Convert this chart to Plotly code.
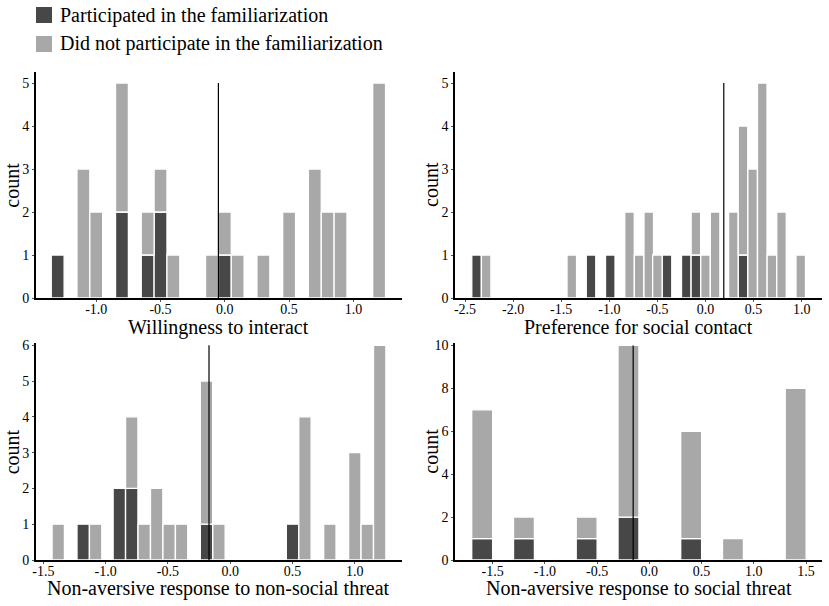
import plotly.graph_objects as go
from plotly.subplots import make_subplots

# bin centres and counts per group
x1 = [-1.3, -1.1, -1.0, -0.8, -0.6, -0.5, -0.4, -0.1, 0.0, 0.1, 0.3, 0.5, 0.7, 0.8, 0.9, 1.2]
part1 = [1, 0, 0, 2, 1, 2, 0, 0, 1, 0, 0, 0, 0, 0, 0, 0]
nonpart1 = [0, 3, 2, 3, 1, 1, 1, 1, 1, 1, 1, 2, 3, 2, 2, 5]

x2 = [-2.38, -2.28, -1.39, -1.19, -0.99, -0.79, -0.69, -0.59, -0.50, -0.40, -0.20,
      -0.10, 0.00, 0.10, 0.29, 0.39, 0.49, 0.59, 0.69, 0.79, 0.99]
part2 = [1, 0, 0, 1, 1, 0, 0, 0, 0, 1, 1, 1, 0, 0, 0, 1, 0, 0, 0, 0, 0]
nonpart2 = [0, 1, 1, 0, 0, 2, 1, 2, 1, 0, 0, 1, 1, 2, 2, 3, 3, 5, 1, 2, 1]

x3 = [-1.38, -1.18, -1.08, -0.89, -0.79, -0.69, -0.59, -0.49, -0.39, -0.19, -0.09,
      0.50, 0.60, 0.80, 1.00, 1.10, 1.20]
part3 = [0, 1, 0, 2, 2, 0, 0, 0, 0, 1, 0, 1, 0, 0, 0, 0, 0]
nonpart3 = [1, 0, 1, 0, 2, 1, 2, 1, 1, 4, 1, 0, 4, 1, 3, 1, 6]

x4 = [-1.6, -1.2, -0.6, -0.2, 0.4, 0.8, 1.4]
part4 = [1, 1, 1, 2, 1, 0, 0]
nonpart4 = [6, 1, 1, 8, 5, 1, 8]

binwidths = [0.1, 0.099, 0.099, 0.2]
vlines = [-0.05, 0.19, -0.17, -0.155]
titles = ["Willingness to interact", "Preference for social contact",
          "Non-aversive response to non-social threat", "Non-aversive response to social threat"]
legend_names = ["Participated in the familiarization", "Did not participate in the familiarization"]
xranges = [[-1.471, 1.378], [-2.604, 1.211], [-1.561, 1.379], [-1.86, 1.652]]
yranges = [[0, 5.256], [0, 5.256], [0, 6.056], [0, 10.1]]
xticks = [[-1.0, -0.5, 0.0, 0.5, 1.0],
          [-2.5, -2.0, -1.5, -1.0, -0.5, 0.0, 0.5, 1.0],
          [-1.5, -1.0, -0.5, 0.0, 0.5, 1.0],
          [-1.5, -1.0, -0.5, 0.0, 0.5, 1.0, 1.5]]
yticks = [[0, 1, 2, 3, 4, 5], [0, 1, 2, 3, 4, 5], [0, 1, 2, 3, 4, 5, 6], [0, 2, 4, 6, 8, 10]]

DARK = '#474747'
LIGHT = '#a8a8a8'
FONT = 'Liberation Serif'
W, H = 829, 606

panels = [(x1, part1, nonpart1), (x2, part2, nonpart2), (x3, part3, nonpart3), (x4, part4, nonpart4)]

fig = make_subplots(rows=2, cols=2)

for i, (xs, p, n) in enumerate(panels):
    row, col = i // 2 + 1, i % 2 + 1
    bw = binwidths[i]
    # stacked: participants at the bottom, non-participants on top (skip empty bins)
    px_ = [x for x, v in zip(xs, p) if v > 0]
    py_ = [v for v in p if v > 0]
    nx_ = [x for x, v in zip(xs, n) if v > 0]
    ny_ = [v for v in n if v > 0]
    base_n = [b for b, v in zip(p, n) if v > 0]
    fig.add_trace(go.Bar(x=px_, y=py_, width=bw, name=legend_names[0], showlegend=False,
                         marker=dict(color=DARK, line=dict(color='white', width=1.3))),
                  row=row, col=col)
    fig.add_trace(go.Bar(x=nx_, y=ny_, base=base_n, width=bw, name=legend_names[1], showlegend=False,
                         marker=dict(color=LIGHT, line=dict(color='white', width=1.3))),
                  row=row, col=col)
    top = max(a + b for a, b in zip(p, n))
    fig.add_trace(go.Scatter(x=[vlines[i], vlines[i]], y=[0, top], mode='lines',
                             line=dict(color='black', width=1.2), showlegend=False,
                             hoverinfo='skip'), row=row, col=col)

# panel placement in pixels: (left, right, top, bottom)
boxes = [(35.7, 402, 72, 298), (455, 822, 72, 298), (35.7, 402, 343.3, 560), (455, 822, 343.3, 560)]

annotations = []
for i, (l, r, t, b) in enumerate(boxes):
    k = '' if i == 0 else str(i + 1)
    fig.layout['xaxis' + k].update(domain=[l / W, r / W], range=xranges[i], tickvals=xticks[i],
                                   ticktext=['%.1f' % v for v in xticks[i]])
    fig.layout['yaxis' + k].update(domain=[1 - b / H, 1 - t / H], range=yranges[i], tickvals=yticks[i])
    annotations.append(dict(text=titles[i], xref='paper', yref='paper', x=(l + r) / 2 / W,
                            y=1 - (b + (29 if i < 2 else 28)) / H, xanchor='center', yanchor='middle',
                            showarrow=False, font=dict(family=FONT, size=20, color='black')))
    annotations.append(dict(text='count', xref='paper', yref='paper', x=(l - 24) / W,
                            y=1 - (t + b) / 2 / H, xanchor='center', yanchor='middle', showarrow=False,
                            textangle=-90, font=dict(family=FONT, size=20, color='black')))

axis_style = dict(showline=True, linecolor='black', linewidth=1.5, ticks='outside', ticklen=2,
                  tickcolor='#555555', showgrid=False, zeroline=False, automargin=False,
                  tickfont=dict(family=FONT, size=14, color='black'))
fig.update_xaxes(ticklabelstandoff=-5, **axis_style)
fig.update_yaxes(**axis_style)

# legend drawn as keys + labels in the top-left corner
shapes = []
for j, c in enumerate([DARK, LIGHT]):
    y0 = 7 + 29 * j
    shapes.append(dict(type='rect', xref='paper', yref='paper', x0=36 / W, x1=52 / W,
                       y0=1 - (y0 + 16) / H, y1=1 - y0 / H, fillcolor=c, line=dict(width=0)))
    annotations.append(dict(text=legend_names[j], xref='paper', yref='paper', x=58 / W,
                            y=1 - (y0 + 8) / H, xanchor='left', yanchor='middle', showarrow=False,
                            font=dict(family=FONT, size=20, color='black')))

fig.update_layout(
    width=W, height=H,
    barmode='overlay',
    plot_bgcolor='white', paper_bgcolor='white',
    margin=dict(l=0, r=0, t=0, b=0),
    font=dict(family=FONT, size=14, color='black'),
    annotations=annotations,
    shapes=shapes,
    showlegend=False,
)

# drop the browser's default 8px body margin so the figure sits at the page corner
fig.write_html("out.html", config={'displayModeBar': False},
               post_script="document.body.style.margin='0';")
